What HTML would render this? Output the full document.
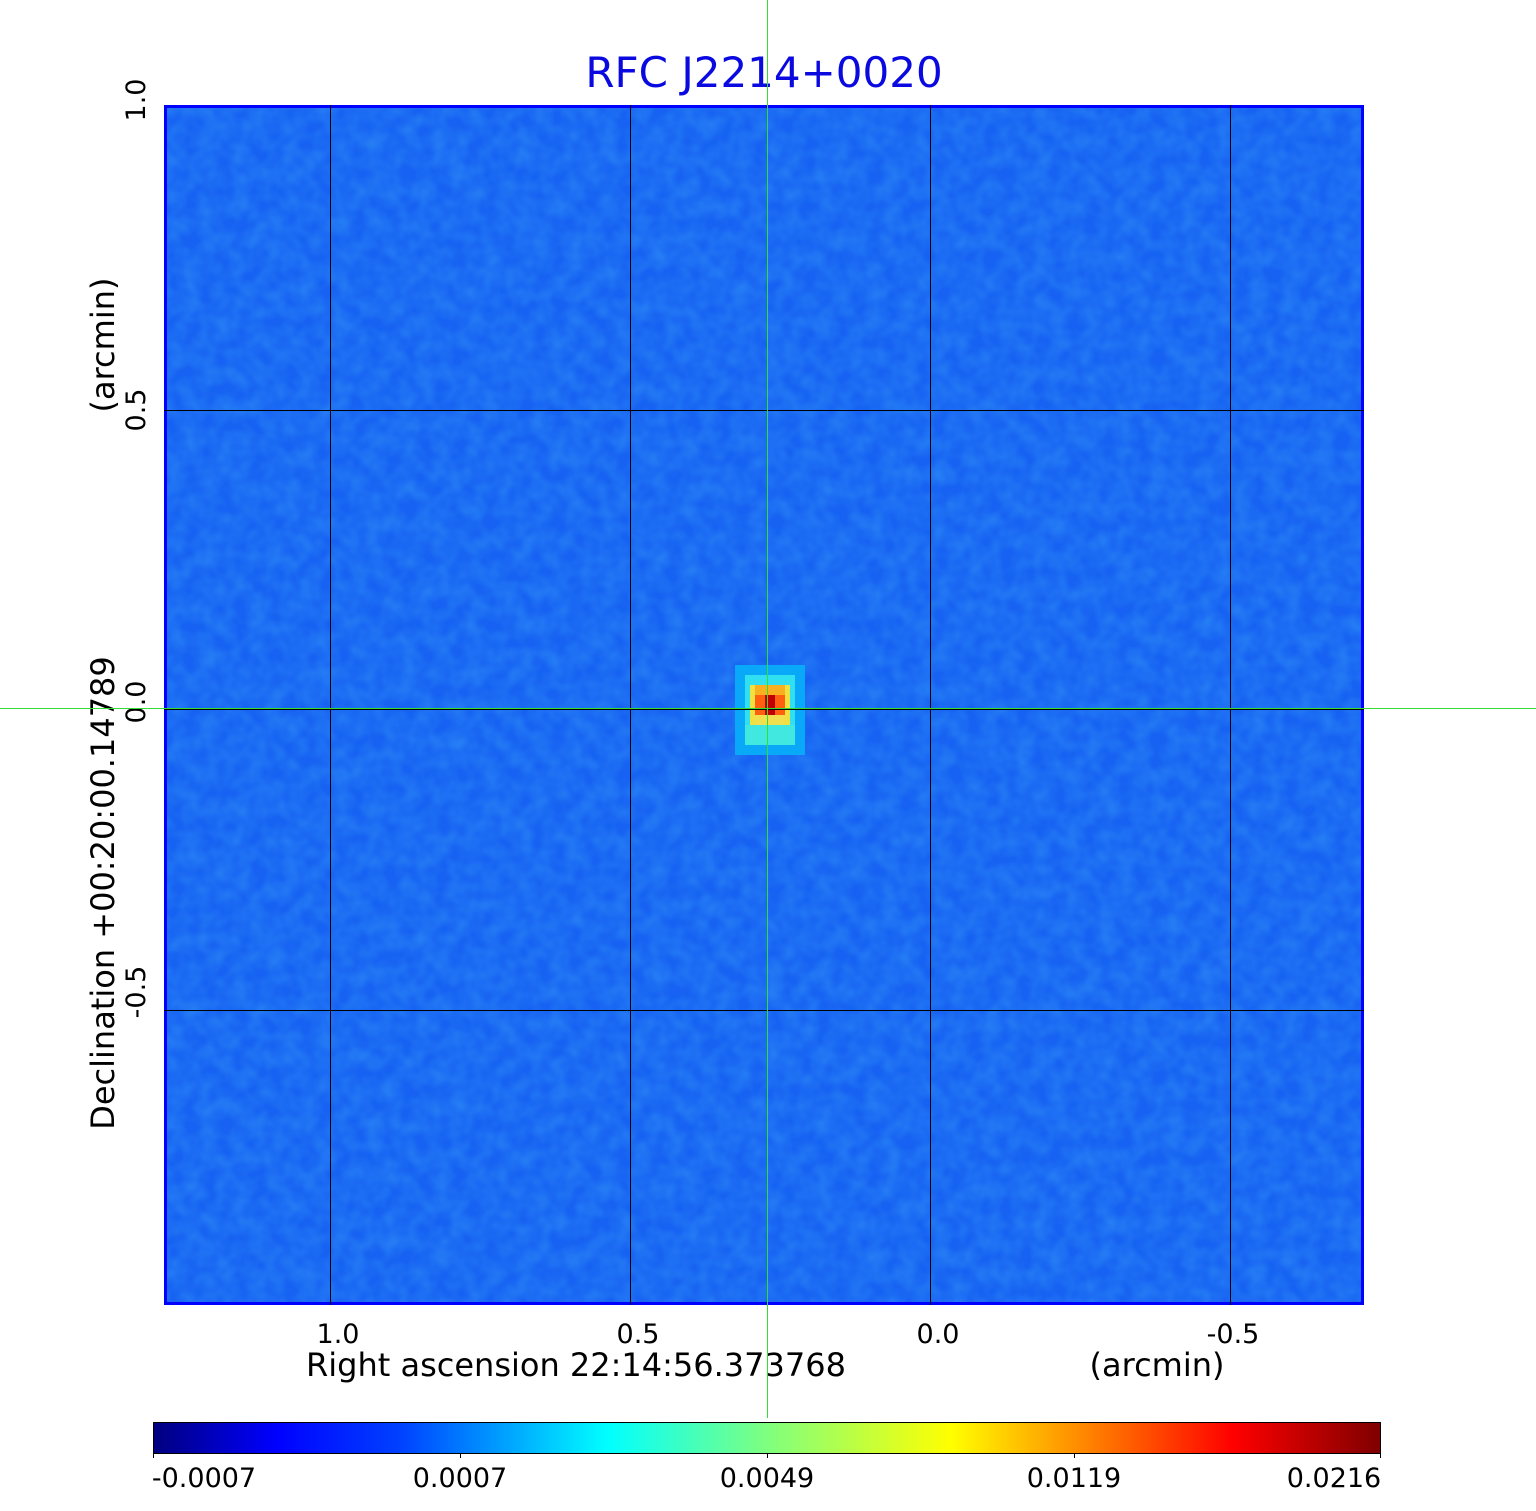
<!DOCTYPE html><html><head><style>body{margin:0;background:#fff}svg{display:block}</style></head><body>
<svg width="1536" height="1511" xmlns="http://www.w3.org/2000/svg" font-family="DejaVu Sans, Liberation Sans, sans-serif" xml:space="preserve">
<defs>
<linearGradient id="jet" x1="0" x2="1" y1="0" y2="0">
<stop offset="0" stop-color="#00007f"/><stop offset="0.1" stop-color="#0000ff"/><stop offset="0.2" stop-color="#0040ff"/><stop offset="0.37" stop-color="#00ffff"/><stop offset="0.5" stop-color="#7fff7f"/><stop offset="0.65" stop-color="#ffff00"/><stop offset="0.88" stop-color="#ff0000"/><stop offset="1" stop-color="#7f0000"/>
</linearGradient>
<filter id="n" x="0" y="0" width="1" height="1"><feTurbulence type="fractalNoise" baseFrequency="0.06" numOctaves="2" seed="3"/><feColorMatrix values="0 0 0 0 0.05  0 0 0 0 0.42  0 0 0 0 0.95  0 0 0 0.8 -0.2"/><feComposite in2="SourceGraphic" operator="in"/></filter>
</defs>
<text x="764" y="87" font-size="42" fill="#0a0ae0" text-anchor="middle">RFC J2214+0020</text>
<rect x="164" y="105" width="1200" height="1200" fill="#1762f2"/>
<rect x="164" y="105" width="1200" height="1200" fill="#000" filter="url(#n)" opacity="0.7"/>
<g shape-rendering="crispEdges">
<rect x="735" y="665" width="70" height="90" fill="#0aa8f8"/>
<rect x="745" y="675" width="50" height="70" fill="#30e0f0"/>
<rect x="750" y="685" width="40" height="40" fill="#f0e040"/>
<rect x="755" y="685" width="30" height="10" fill="#f8b020"/>
<rect x="755" y="695" width="30" height="20" fill="#ff6010"/>
<rect x="765" y="695" width="10" height="20" fill="#c00000"/>
<rect x="755" y="715" width="30" height="10" fill="#f0e050"/>
<rect x="745" y="725" width="50" height="20" fill="#40e8e0"/>
</g>
<rect x="165.5" y="106.5" width="1197" height="1197" fill="none" stroke="#0000ff" stroke-width="3"/>
<g stroke="#000" stroke-width="1">
<line x1="330.5" y1="105" x2="330.5" y2="1305"/><line x1="630.5" y1="105" x2="630.5" y2="1305"/><line x1="930.5" y1="105" x2="930.5" y2="1305"/><line x1="1230.5" y1="105" x2="1230.5" y2="1305"/>
<line x1="164" y1="410.5" x2="1364" y2="410.5"/><line x1="164" y1="709.5" x2="1364" y2="709.5"/><line x1="164" y1="1010.5" x2="1364" y2="1010.5"/>
</g>
<g font-size="27" fill="#000" text-anchor="middle">
<text x="338" y="1343">1.0</text><text x="638" y="1343">0.5</text><text x="938" y="1343">0.0</text><text x="1233" y="1343">-0.5</text>
<text x="576" y="1376" font-size="32">Right ascension  22:14:56.373768</text>
<text x="1157" y="1376" font-size="32">(arcmin)</text>
<text transform="translate(145,100) rotate(-90)">1.0</text>
<text transform="translate(145,410) rotate(-90)">0.5</text>
<text transform="translate(145,702) rotate(-90)">0.0</text>
<text transform="translate(145,992) rotate(-90)">-0.5</text>
<text transform="translate(114,893) rotate(-90)" font-size="32">Declination  +00:20:00.14789</text>
<text transform="translate(114,345) rotate(-90)" font-size="32">(arcmin)</text>
</g>
<rect x="153.5" y="1422.5" width="1227" height="31" fill="url(#jet)" stroke="#000" stroke-width="1"/>
<g stroke="#000"><line x1="460.5" y1="1453" x2="460.5" y2="1458"/><line x1="767.5" y1="1453" x2="767.5" y2="1458"/><line x1="1074.5" y1="1453" x2="1074.5" y2="1458"/><line x1="153.5" y1="1453" x2="153.5" y2="1458"/><line x1="1380.5" y1="1453" x2="1380.5" y2="1458"/></g>
<g font-size="27" fill="#000" text-anchor="middle">
<text x="204" y="1487">-0.0007</text><text x="460" y="1487">0.0007</text><text x="767" y="1487">0.0049</text><text x="1074" y="1487">0.0119</text><text x="1334" y="1487">0.0216</text>
</g>
<g shape-rendering="crispEdges" fill="#33dd33">
<rect x="767" y="0" width="1" height="1418"/>
<rect x="0" y="708" width="1536" height="1"/>
</g>
</svg>
</body></html>
